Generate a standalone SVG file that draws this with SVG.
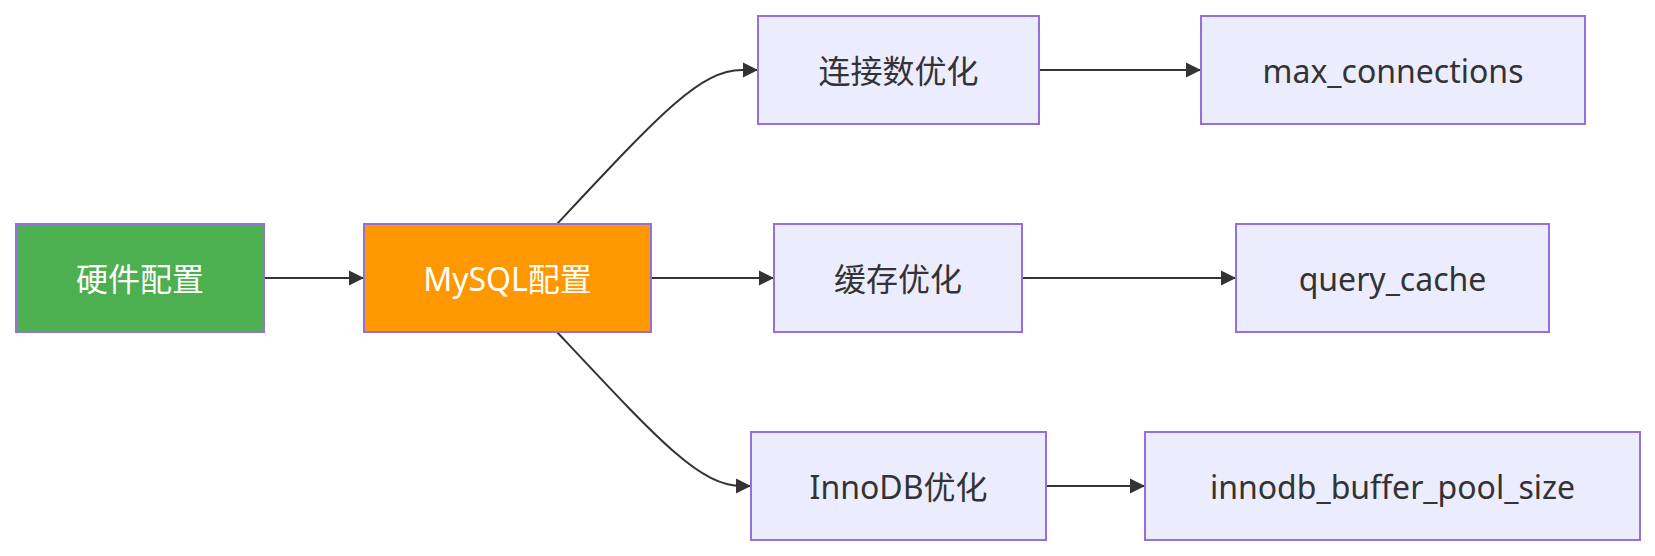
<svg xmlns="http://www.w3.org/2000/svg" width="1655" height="556" viewBox="0 0 1655 556">
<style>
  .box { fill: #ECECFF; stroke: #9370DB; stroke-width: 2; }
  .lbl { font-family: "Noto Sans", "Noto Sans CJK SC", sans-serif; font-size: 32px; fill: #333333; text-anchor: middle; dominant-baseline: central; }
  .w { fill: #FFFFFF; }
  .edge { fill: none; stroke: #333333; stroke-width: 2; }
</style>
<defs>
  <marker id="arrow" viewBox="0 0 10 10" refX="10" refY="5" markerUnits="userSpaceOnUse" markerWidth="15" markerHeight="16" orient="auto">
    <path d="M0,0 L10,5 L0,10 z" fill="#333333"/>
  </marker>
</defs>
<rect width="1655" height="556" fill="#FFFFFF"/>
<g id="connectors">
  <path class="edge" d="M264,278 L364,278" marker-end="url(#arrow)"/>
  <path class="edge" d="M557,224 C660,114 700,70 742,70 L758,70" marker-end="url(#arrow)"/>
  <path class="edge" d="M651,278 L774,278" marker-end="url(#arrow)"/>
  <path class="edge" d="M557,332 C660,442 700,486 742,486 L751,486" marker-end="url(#arrow)"/>
  <path class="edge" d="M1039,70 L1201,70" marker-end="url(#arrow)"/>
  <path class="edge" d="M1022,278 L1236,278" marker-end="url(#arrow)"/>
  <path class="edge" d="M1046,486 L1145,486" marker-end="url(#arrow)"/>
</g>
<g id="node-hw">
  <rect class="box" x="16" y="224" width="248" height="108" style="fill:#4CAF50"/>
  <text class="lbl w" x="140" y="278">硬件配置</text>
</g>
<g id="node-mysql">
  <rect class="box" x="364" y="224" width="287" height="108" style="fill:#FF9800"/>
  <text class="lbl w" x="507.5" y="278">MySQL配置</text>
</g>
<g id="node-conn">
  <rect class="box" x="758" y="16" width="281" height="108"/>
  <text class="lbl" x="898.5" y="70">连接数优化</text>
</g>
<g id="node-maxconn">
  <rect class="box" x="1201" y="16" width="384" height="108"/>
  <text class="lbl" x="1393" y="70">max_connections</text>
</g>
<g id="node-cache">
  <rect class="box" x="774" y="224" width="248" height="108"/>
  <text class="lbl" x="898" y="278">缓存优化</text>
</g>
<g id="node-qcache">
  <rect class="box" x="1236" y="224" width="313" height="108"/>
  <text class="lbl" x="1392.5" y="278">query_cache</text>
</g>
<g id="node-innodb">
  <rect class="box" x="751" y="432" width="295" height="108"/>
  <text class="lbl" x="898.5" y="486">InnoDB优化</text>
</g>
<g id="node-bufpool">
  <rect class="box" x="1145" y="432" width="495" height="108"/>
  <text class="lbl" x="1392.5" y="486">innodb_buffer_pool_size</text>
</g>
</svg>
